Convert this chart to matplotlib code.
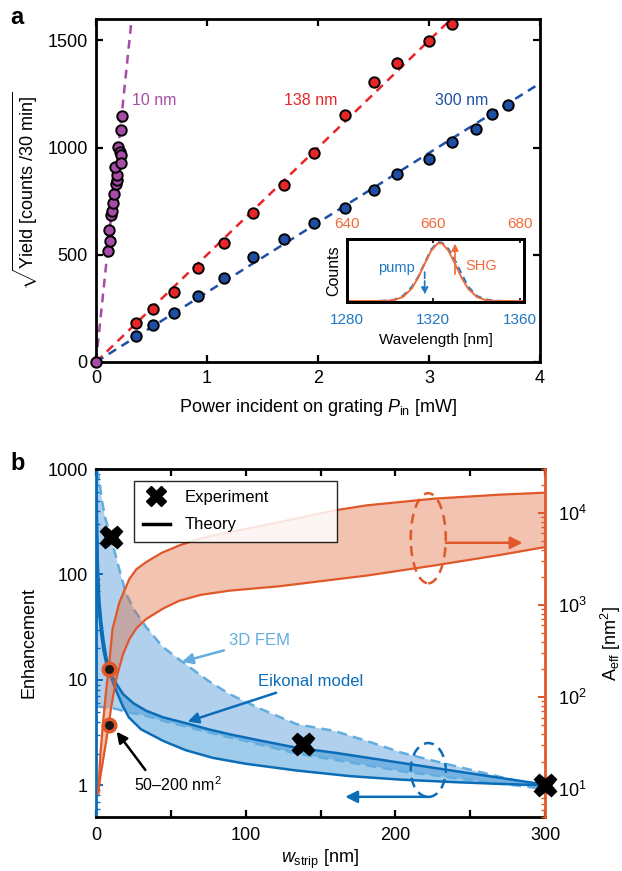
import matplotlib
matplotlib.use('Agg')
import matplotlib.pyplot as plt
import numpy as np
from matplotlib.patches import Ellipse
from matplotlib.lines import Line2D
import matplotlib.ticker as mt

plt.rcParams['font.family'] = ['Liberation Sans', 'DejaVu Sans']
plt.rcParams['mathtext.fontset'] = 'custom'
plt.rcParams['mathtext.rm'] = 'Liberation Sans'
plt.rcParams['mathtext.it'] = 'Liberation Sans:italic'
plt.rcParams['mathtext.bf'] = 'Liberation Sans:bold'

# ---- panel a data: sqrt(yield) vs incident power ----
p10_x = [0, 0.105, 0.126, 0.120, 0.135, 0.147, 0.156, 0.165, 0.180, 0.186, 0.192,
         0.171, 0.201, 0.216, 0.225, 0.222, 0.222, 0.231]
p10_y = [0, 519, 565, 615, 685, 705, 742, 782, 832, 848, 874,
         910, 1003, 980, 964, 930, 1081, 1147]
p138_x = [0.357, 0.517, 0.70, 0.92, 1.156, 1.41, 1.69, 1.96, 2.24, 2.50, 2.71, 3.0, 3.21]
p138_y = [183, 245, 327, 439, 556, 697, 824, 977, 1153, 1305, 1394, 1497, 1577]
p300_x = [0.357, 0.517, 0.70, 0.92, 1.156, 1.41, 1.69, 1.96, 2.24, 2.50, 2.71, 3.0,
          3.21, 3.42, 3.57, 3.71]
p300_y = [121, 172, 227, 309, 390, 488, 576, 649, 720, 801, 879, 947,
          1026, 1088, 1158, 1197]
fit_slopes = [4980, 500, 325]   # counts/30min per mW
fit_x = [0, 4]
labels_a = ['10 nm', '138 nm', '300 nm']
label_pos = [(0.32, 1220), (1.69, 1220), (3.05, 1220)]

# inset spectrum
wl = [1280, 1290, 1298, 1302, 1306, 1310, 1313, 1316, 1319, 1322, 1324, 1327,
      1330, 1333, 1336, 1340, 1344, 1348, 1355, 1362]
shg_counts = [0.02, 0.02, 0.023, 0.036, 0.086, 0.217, 0.39, 0.61, 0.815, 0.93, 0.93,
              0.815, 0.61, 0.39, 0.217, 0.086, 0.036, 0.023, 0.02, 0.02]
pump_counts = [0.01, 0.015, 0.025, 0.04, 0.10, 0.24, 0.40, 0.62, 0.83, 0.95, 0.94,
               0.84, 0.66, 0.45, 0.25, 0.10, 0.045, 0.025, 0.015, 0.01]

# ---- panel b data ----
eik_hi_x = [0.3, 0.7, 1.2, 2.2, 3.5, 5, 7, 10, 14, 18, 25, 33.5, 45, 61, 75, 89,
            110, 134, 160, 204, 248, 293, 300]
eik_hi_y = [1000, 300, 130, 57, 36, 24, 16, 11.4, 9.0, 7.35, 6.0, 5.09, 4.4, 3.85,
            3.4, 3.05, 2.65, 2.27, 2.03, 1.63, 1.31, 1.05, 1.0]
eik_lo_x = [0.3, 0.7, 1.2, 2.2, 3.5, 5, 7, 10, 14, 18, 22, 30, 45, 60, 78, 100,
            134, 170, 204, 240, 270, 300]
eik_lo_y = [700, 200, 90, 42, 27, 19, 14, 10.5, 7.6, 5.6, 4.4, 3.4, 2.63, 2.15,
            1.82, 1.6, 1.38, 1.22, 1.13, 1.07, 1.03, 1.0]
fem_hi_x = [0.5, 2.2, 4, 6, 10, 15, 20, 26, 33.4, 44.6, 58, 75, 89, 110, 134, 159,
            181, 204, 226, 259, 293, 300]
fem_hi_y = [1000, 800, 500, 350, 222, 120, 66, 45, 31.8, 20.5, 14.7, 9.8, 7.35, 5.3,
            3.8, 3.28, 2.63, 2.04, 1.7, 1.31, 1.0, 0.97]
fem_lo_x = [0.5, 5, 13.4, 22, 33.5, 47, 61.4, 80, 100, 134, 159, 204, 248, 293, 300]
fem_lo_y = [5.6, 5.5, 5.3, 4.9, 4.56, 4.0, 3.58, 3.05, 2.63, 2.0, 1.75, 1.36,
            1.13, 0.95, 0.95]
aeff_hi_x = [1.5, 3, 5, 7, 8.5, 11, 15.6, 22.3, 27, 33.4, 44, 55.7, 70, 89, 122.5,
             160, 181, 226, 270, 300]
aeff_hi_y = [9, 25, 60, 130, 204, 547, 1070, 1920, 2450, 2920, 3700, 4440, 5300,
             6170, 7950, 10700, 12100, 14300, 15800, 16600]
aeff_lo_x = [1.5, 3, 5, 7, 8.5, 10, 13.4, 18, 22.3, 27, 33.4, 45, 55.7, 70, 89,
             122.5, 160, 181, 226, 270, 300]
aeff_lo_y = [9, 14, 22, 35, 50, 75, 156, 290, 426, 560, 703, 920, 1114, 1290, 1432,
             1600, 1900, 2090, 2690, 3500, 4260]
exp_x = [10, 138, 300]
exp_y = [227, 2.45, 1.0]
mark_x = [8.5, 8.5]
mark_aeff = [204, 50]

purple = '#a64ca6'
red = '#e8262a'
navy = '#1f4ea5'
orange = '#e0582a'
blue = '#0b6cb8'
lblue = '#62ade0'
ins_blue = '#1f78c4'
ins_orange = '#f06a3a'

fig = plt.figure(figsize=(6.22, 8.71), dpi=100)

# ================= panel a =================
ax = fig.add_axes([96/622, 1-362/871, 444/622, 343/871])
for slope, col in zip(fit_slopes, [purple, red, navy]):
    ax.plot(fit_x, [slope*v for v in fit_x], '--', color=col, lw=1.8, dashes=(3.5, 2.5))
for xs, ys, col in [(p300_x, p300_y, navy), (p138_x, p138_y, red), (p10_x, p10_y, purple)]:
    ax.plot(xs, ys, 'o', mfc=col, mec='k', mew=1.4, ms=7.5, ls='none', clip_on=False, zorder=4)
for txt, (tx, ty), col in zip(labels_a, label_pos, [purple, red, navy]):
    ax.text(tx, ty, txt, color=col, fontsize=11.5, va='center', ha='left')
ax.set_xlim(0, 4)
ax.set_ylim(0, 1600)
ax.set_xticks([0, 1, 2, 3, 4])
ax.set_yticks([0, 500, 1000, 1500])
ax.tick_params(direction='in', top=True, right=True, length=5, width=1.6, labelsize=13, pad=6)
for s in ax.spines.values():
    s.set_linewidth(2)
ax.set_xlabel(r'Power incident on grating $P_{\mathrm{in}}$ [mW]', fontsize=13, labelpad=7)
ax.set_ylabel(r'$\sqrt{\mathrm{Yield\ [counts\ /30\ min]}}$', fontsize=13, labelpad=5)

# inset
ai = fig.add_axes([346.7/622, 1-302.3/871, 177.6/622, 63.3/871])
ai.plot(wl, pump_counts, '--', color=ins_blue, lw=1.6, dashes=(3, 2))
ai.plot(wl, shg_counts, '-', color=ins_orange, lw=1.4)
ai.set_xlim(1280, 1362)
ai.set_ylim(0, 1)
ai.set_yticks([])
ai.set_xticks([1280, 1320, 1360])
ai.tick_params(axis='x', direction='in', length=3, width=1.2, labelsize=11, labelcolor=ins_blue, pad=8)
for s in ai.spines.values():
    s.set_linewidth(2)
ai.set_xlabel('Wavelength [nm]', fontsize=11, labelpad=4)
ai.set_ylabel('Counts', fontsize=11.5, labelpad=4)
at = ai.twiny()
at.set_xlim(640, 681)
at.set_xticks([640, 660, 680])
at.tick_params(axis='x', direction='in', length=3, width=1.2, labelsize=11, labelcolor=ins_orange, pad=6)
for s in at.spines.values():
    s.set_linewidth(2)
ai.annotate('', xy=(1316, 0.08), xytext=(1316, 0.52),
            arrowprops=dict(arrowstyle='-|>', color=ins_blue, lw=1.2, ls='--', mutation_scale=10))
ai.annotate('', xy=(1330, 0.97), xytext=(1330, 0.40),
            arrowprops=dict(arrowstyle='-|>', color=ins_orange, lw=1.2, mutation_scale=10))
ai.text(1303, 0.54, 'pump', color=ins_blue, fontsize=10.5, ha='center', va='center')
ai.text(1342, 0.58, 'SHG', color=ins_orange, fontsize=10.5, ha='center', va='center')

# ================= panel b =================
axb = fig.add_axes([96/622, 1-817/871, 449/622, 348/871])
axb.fill(fem_hi_x + fem_lo_x[::-1], fem_hi_y + fem_lo_y[::-1], color='#3a8ad6', alpha=0.4, lw=0)
axb.fill(eik_hi_x + eik_lo_x[::-1], eik_hi_y + eik_lo_y[::-1], color='#2d8fd5', alpha=0.45, lw=0)
axb.plot(fem_hi_x, fem_hi_y, '--', color=lblue, lw=1.8, dashes=(4, 2.5))
axb.plot(fem_lo_x, fem_lo_y, '--', color=lblue, lw=1.8, dashes=(4, 2.5))
axb.plot(eik_hi_x, eik_hi_y, '-', color=blue, lw=1.8)
axb.plot(eik_lo_x, eik_lo_y, '-', color=blue, lw=1.8)
axb.set_yscale('log')
axb.set_xlim(0, 300)
axb.set_ylim(0.5, 1000)
axb.set_yticks([1, 10, 100, 1000])
axb.set_yticklabels(['1', '10', '100', '1000'])
axb.yaxis.set_minor_locator(mt.LogLocator(subs=np.arange(2, 10)))
axb.yaxis.set_minor_formatter(mt.NullFormatter())
axb.set_xticks([0, 100, 200, 300])
axb.xaxis.set_minor_locator(mt.MultipleLocator(50))
axb.tick_params(axis='x', which='both', direction='in', top=True, length=5, width=1.6, labelsize=13, pad=7)
axb.tick_params(axis='y', which='major', direction='in', length=5, width=1.4, color=blue, labelsize=13, pad=6)
axb.tick_params(axis='y', which='minor', direction='in', length=3, width=1.0, color=blue)
for k in ['top', 'bottom']:
    axb.spines[k].set_linewidth(2)
axb.spines['left'].set_linewidth(2)
axb.spines['left'].set_color(blue)
axb.spines['right'].set_visible(False)
axb.set_xlabel(r'$w_{\mathrm{strip}}$ [nm]', fontsize=13, labelpad=3)
axb.set_ylabel('Enhancement', fontsize=13, labelpad=7)

axr = axb.twinx()
axr.fill(aeff_hi_x + aeff_lo_x[::-1], aeff_hi_y + aeff_lo_y[::-1], color='#e06a3a', alpha=0.4, lw=0)
axr.plot(aeff_hi_x, aeff_hi_y, '-', color=orange, lw=1.6)
axr.plot(aeff_lo_x, aeff_lo_y, '-', color=orange, lw=1.6)
axr.plot(mark_x, mark_aeff, 'o', mfc='#1a1a1a', mec=orange, mew=2.5, ms=9, ls='none', zorder=6)
axr.plot(exp_x, exp_y, 'X', transform=axb.transData, color='k', ms=16, ls='none',
         clip_on=False, zorder=7)
axr.set_yscale('log')
axr.set_ylim(5, 3e4)
axr.set_xlim(0, 300)
axr.yaxis.set_minor_locator(mt.LogLocator(subs=np.arange(2, 10)))
axr.yaxis.set_minor_formatter(mt.NullFormatter())
axr.tick_params(axis='y', which='major', direction='in', length=5, width=1.4, color=orange, labelsize=13, pad=9)
axr.tick_params(axis='y', which='minor', direction='in', length=3, width=1.0, color=orange)
for k in ['top', 'bottom', 'left']:
    axr.spines[k].set_visible(False)
axr.spines['right'].set_linewidth(2)
axr.spines['right'].set_color(orange)
axr.set_ylabel(r'A$_{\mathrm{eff}}$ [nm$^2$]', fontsize=13, labelpad=9)

# ellipses + arrows
axr.add_patch(Ellipse((0.740, 0.801), 0.078, 0.259, transform=axr.transAxes, fill=False,
                      ec=orange, lw=1.8, ls=(0, (4, 2.5)), zorder=8))
axr.annotate('', xy=(0.950, 0.788), xytext=(0.779, 0.788), xycoords='axes fraction',
             arrowprops=dict(arrowstyle='-|>', color=orange, lw=1.8, mutation_scale=18,
                             shrinkA=0, shrinkB=0), zorder=8)
axr.add_patch(Ellipse((0.740, 0.135), 0.078, 0.155, transform=axr.transAxes, fill=False,
                      ec=blue, lw=1.8, ls=(0, (4, 2.5)), zorder=8))
axr.annotate('', xy=(0.555, 0.058), xytext=(0.740, 0.058), xycoords='axes fraction',
             arrowprops=dict(arrowstyle='-|>', color=blue, lw=1.8, mutation_scale=18,
                             shrinkA=0, shrinkB=0), zorder=8)

axr.annotate('3D FEM', xy=(0.1915, 0.446), xytext=(0.297, 0.507), xycoords='axes fraction',
             color=lblue, fontsize=12, va='center', ha='left',
             arrowprops=dict(arrowstyle='-|>', color=lblue, lw=1.8, mutation_scale=16,
                             shrinkA=2, shrinkB=0))
axr.annotate('Eikonal model', xy=(0.204, 0.274), xytext=(0.360, 0.389), xycoords='axes fraction',
             color=blue, fontsize=12, va='center', ha='left',
             arrowprops=dict(arrowstyle='-|>', color=blue, lw=1.8, mutation_scale=16,
                             shrinkA=2, shrinkB=0))
axr.annotate(r'50–200 nm$^2$', xy=(0.046, 0.245), xytext=(0.0853, 0.092), xycoords='axes fraction',
             color='k', fontsize=11.5, va='center', ha='left')
axr.annotate('', xy=(0.046, 0.245), xytext=(0.110, 0.135), xycoords='axes fraction',
             arrowprops=dict(arrowstyle='-|>', color='k', lw=1.8, mutation_scale=16,
                             shrinkA=0, shrinkB=0))

handles = [Line2D([], [], marker='X', color='k', ls='none', ms=15),
           Line2D([], [], color='k', lw=2.5)]
leg = axr.legend(handles, ['Experiment', 'Theory'], loc='upper left',
                 bbox_to_anchor=(0.0846, 0.776, 0.452, 0.19), mode='expand',
                 borderaxespad=0, fancybox=False, edgecolor='k', framealpha=0.85,
                 fontsize=12, borderpad=0.55, labelspacing=0.75, handlelength=1.6,
                 handletextpad=0.9)
leg.get_frame().set_linewidth(1.0)
leg.set_zorder(9)

fig.text(10/622, 1-24/871, 'a', fontsize=17, fontweight='bold')
fig.text(10/622, 1-470/871, 'b', fontsize=17, fontweight='bold')

fig.savefig('out.png', dpi=100)
